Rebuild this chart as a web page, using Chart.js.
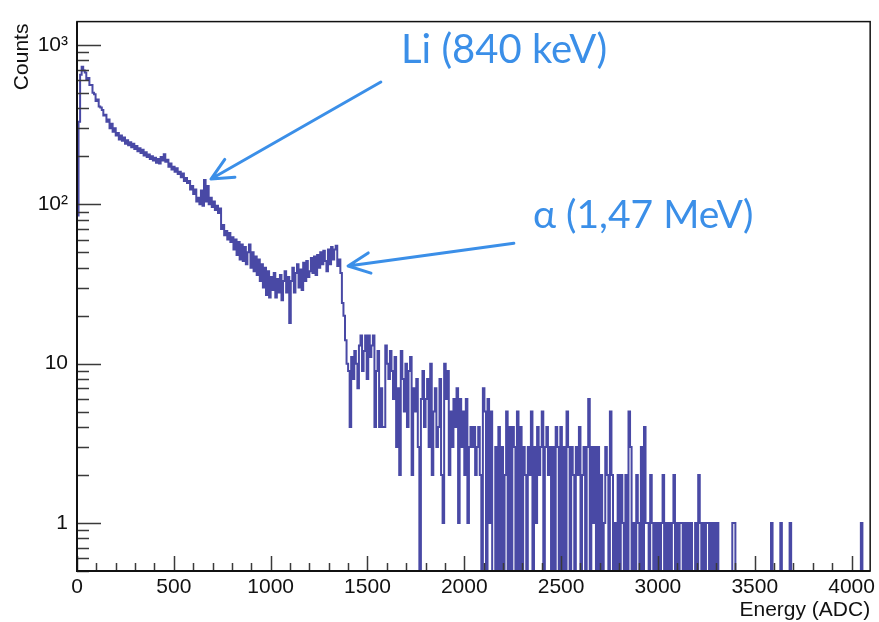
<!DOCTYPE html>
<html>
<head>
<meta charset="utf-8">
<script src="https://cdn.jsdelivr.net/npm/chart.js@4"></script>
<style>
  html, body { margin: 0; padding: 0; background: #fff; }
  #wrap { width: 879px; height: 622px; }
</style>
</head>
<body>
<div id="wrap"><canvas id="spectrum" width="879" height="622"></canvas></div>
<script>
// histogram: 512 bins of 8 ADC channels, counts per bin
var binWidth = 8;
var xMax = 4096;
var yMin = 0.5;
var yMax = 1400;

// 0 - 799 ADC
var countsLow = [
  85,330,650,730,690,670,610,620,560,560,500,490,445,455,410,405,
  390,360,365,330,340,300,320,285,300,270,280,255,270,250,262,240,
  252,235,245,228,240,222,232,215,225,210,220,202,212,198,205,192,
  200,188,196,182,192,180,198,188,206,185,190,172,180,165,172,160,
  168,155,160,148,156,140,146,136,140,124,130,116,124,104,110,100,
  122,98,142,104,130,100,110,96,104,92,98,88,94,70,74,64,
  68,60,66,58
];
// 800 - 1383 ADC (valley and alpha edge)
var countsMid = [
  62,52,60,48,58,45,56,44,54,42,50,56,40,50,38,47,
  36,45,33,42,30,40,27,38,26,35,29,37,26,34,28,36,
  25,33,38,28,35,18,33,40,28,37,42,30,39,29,43,33,
  44,35,38,46,37,47,36,48,40,50,42,51,44,38,52,42,
  54,45,52,55,41,45,37,24,20
];
// 1384 - 1799 ADC
var countsStep = [
  14,10,9,4,11,8,12,10,7,13,15,9,12,15,8,15,
  11,13,15,4,9,12,4,7,4,4,13,10,8,12,9,6,
  11,3,7,2,12,8,5,10,4,9,11,2,7,5,8,3,
  0,6,9,4
];
// 1800 - 2559 ADC
var countsTail1 = [
  6,8,3,10,2,5,7,3,4,8,2,1,10,6,9,2,
  5,3,6,4,7,1,6,3,5,2,6,1,3,4,3,4,
  2,3,4,2,0,7,5,0,6,1,5,0,0,3,0,4,
  0,3,0,2,5,0,4,0,4,3,0,5,0,4,0,3,
  2,0,3,2,5,0,3,1,4,2,3,5,0,3,4,2,
  3,0,3,0,4,3,0,4,0,3,0,5,3,0,3
];
// 2560 - 3199 ADC
var countsTail2 = [
  2,0,3,2,4,0,2,3,0,3,6,0,3,1,3,0,
  3,0,2,0,1,3,2,0,5,2,0,1,0,2,0,2,
  1,0,2,0,5,3,0,1,0,2,1,0,3,0,4,1,
  1,0,2,1,0,1,0,1,0,1,2,0,1,0,1,0,
  1,2,0,1,0,1,1,0,1,0,1,0,1,0,0,1
];
// 3200 - 4095 ADC
var countsTail3 = [
  0,2,1,0,1,0,1,1,0,1,0,1,0,1,0,0,
  0,0,0,0,0,0,0,1,1,0,0,0,0,0,0,0,
  0,0,0,0,0,0,0,0,0,0,0,0,0,0,0,0,
  1,0,0,0,0,0,1,0,0,0,0,0,1,0,0,0,
  0,0,0,0,0,0,0,0,0,0,0,0,0,0,0,0,
  0,0,0,0,0,0,0,0,0,0,0,0,0,0,0,0,
  0,0,0,0,0,0,0,0,0,0,1,0,0,0,0,0
];

var xMajorTicks = [0, 500, 1000, 1500, 2000, 2500, 3000, 3500, 4000];
var yMajorTicks = [1, 10, 100, 1000];
var yTickLabels = {1: "1", 10: "10", 100: "10\u00b2", 1000: "10\u00b3"};

var counts = [].concat(countsLow, countsMid, countsStep, countsTail1, countsTail2, countsTail3);

function histPoints() {
  // empty bins go down to the frame bottom like ROOT does
  var pts = [{x: 0, y: yMin}];
  counts.forEach(function (c, i) {
    pts.push({x: i * binWidth, y: c > 0 ? c : yMin});
  });
  var last = counts[counts.length - 1];
  pts.push({x: counts.length * binWidth, y: last > 0 ? last : yMin});
  return pts;
}

var font = "'Liberation Sans', Arial, Helvetica, sans-serif";
var noteColor = "#3b8fe8";

function arrow(ctx, x0, y0, x1, y1) {
  var ang = Math.atan2(y0 - y1, x0 - x1);
  var len = 24, spread = 0.44;
  ctx.beginPath();
  ctx.moveTo(x0, y0);
  ctx.lineTo(x1, y1);
  ctx.moveTo(x1 + len * Math.cos(ang - spread), y1 + len * Math.sin(ang - spread));
  ctx.lineTo(x1, y1);
  ctx.lineTo(x1 + len * Math.cos(ang + spread), y1 + len * Math.sin(ang + spread));
  ctx.stroke();
}

var rootFrame = {
  id: "rootFrame",
  afterDatasetsDraw: function (chart) {
    var ctx = chart.ctx, a = chart.chartArea;
    var xs = chart.scales.x, ys = chart.scales.y;
    ctx.save();

    // inward ticks
    ctx.strokeStyle = "#3a3a3a";
    ctx.lineWidth = 1.5;
    ctx.beginPath();
    for (var v = 0; v <= xMax; v += 100) {
      var px = Math.round(xs.getPixelForValue(v)) + 0.5;
      var len = (v % 500 === 0) ? 15 : 8;
      ctx.moveTo(px, a.bottom);
      ctx.lineTo(px, a.bottom - len);
    }
    [0.1, 1, 10, 100, 1000].forEach(function (dec) {
      for (var m = 1; m <= 9; m++) {
        var val = dec * m;
        if (val < yMin || val > yMax) continue;
        var py = Math.round(ys.getPixelForValue(val)) + 0.5;
        var l = (m === 1) ? 24 : 12;
        ctx.moveTo(a.left, py);
        ctx.lineTo(a.left + l, py);
      }
    });
    ctx.stroke();

    // frame
    ctx.strokeStyle = "#111";
    ctx.lineWidth = 1.5;
    ctx.strokeRect(a.left, a.top, a.right - a.left, a.bottom - a.top);
    ctx.lineWidth = 2;
    ctx.beginPath();
    ctx.moveTo(a.left, a.top);
    ctx.lineTo(a.left, a.bottom);
    ctx.lineTo(a.right, a.bottom);
    ctx.stroke();

    // axis titles
    ctx.fillStyle = "#111";
    ctx.font = "21px " + font;
    ctx.textAlign = "right";
    ctx.textBaseline = "alphabetic";
    ctx.fillText("Energy (ADC)", a.right, 616);
    ctx.save();
    ctx.translate(28, a.top + 2);
    ctx.rotate(-Math.PI / 2);
    ctx.fillText("Counts", 0, 0);
    ctx.restore();

    // annotations
    ctx.strokeStyle = noteColor;
    ctx.fillStyle = noteColor;
    ctx.lineWidth = 3;
    ctx.lineCap = "round";
    ctx.lineJoin = "round";
    arrow(ctx, xs.getPixelForValue(1569), ys.getPixelForValue(585),
               xs.getPixelForValue(692), ys.getPixelForValue(144));
    arrow(ctx, xs.getPixelForValue(2256), ys.getPixelForValue(57),
               xs.getPixelForValue(1400), ys.getPixelForValue(41));
    ctx.font = "40px Lato, 'Open Sans', sans-serif";
    ctx.textAlign = "left";
    ctx.fillText("Li (840 keV)", 401, 63);
    ctx.font = "39px Lato, 'Open Sans', sans-serif";
    ctx.fillText("\u03b1 (1,47 MeV)", 533, 228);
    ctx.restore();
  }
};

var chart = new Chart(document.getElementById("spectrum").getContext("2d"), {
  type: "line",
  data: {
    datasets: [{
      label: "Energy",
      data: histPoints(),
      stepped: "before",
      borderColor: "rgba(22,22,140,0.78)",
      borderWidth: 2,
      pointRadius: 0,
      fill: false,
      tension: 0
    }]
  },
  options: {
    responsive: false,
    animation: false,
    events: [],
    layout: { padding: { left: 0, right: 3, top: 10, bottom: 0 } },
    plugins: { legend: { display: false }, tooltip: { enabled: false } },
    scales: {
      x: {
        type: "linear",
        min: 0,
        max: xMax,
        grid: { display: false, drawTicks: false },
        border: { display: false },
        ticks: {
          color: "#111",
          font: { size: 21, family: font },
          padding: 4,
          maxRotation: 0,
          callback: function (v) { return String(v); }
        },
        afterBuildTicks: function (s) { s.ticks = xMajorTicks.map(function (v) { return {value: v}; }); },
        afterFit: function (s) { s.height = 51; }
      },
      y: {
        type: "logarithmic",
        min: yMin,
        max: yMax,
        grid: { display: false, drawTicks: false },
        border: { display: false },
        ticks: {
          color: "#111",
          font: { size: 21, family: font },
          padding: 9,
          callback: function (v) { return yTickLabels[v] || ""; }
        },
        afterBuildTicks: function (s) { s.ticks = yMajorTicks.map(function (v) { return {value: v}; }); },
        afterFit: function (s) { s.width = 77; }
      }
    }
  },
  plugins: [rootFrame]
});
</script>
</body>
</html>
